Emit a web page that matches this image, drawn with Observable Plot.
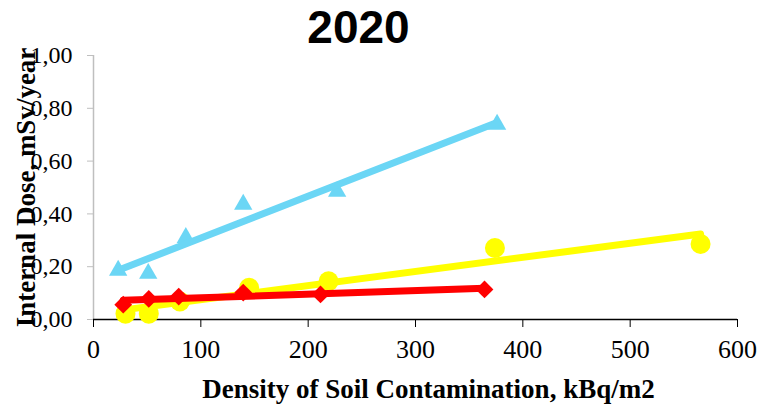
<!DOCTYPE html>
<html>
<head>
<meta charset="utf-8">
<script src="https://cdn.jsdelivr.net/npm/d3@7"></script>
<script src="https://cdn.jsdelivr.net/npm/@observablehq/plot@0.6"></script>
<style>
  html, body { margin: 0; padding: 0; background: white; }
</style>
</head>
<body>
<div id="chart"></div>
<script>
const title = "2020";
const xTitle = "Density of Soil Contamination, kBq/m2";
const yTitle = "Internal Dose, mSv/year";
const xTicks = [0, 100, 200, 300, 400, 500, 600];
const yTicks = [0, 0.2, 0.4, 0.6, 0.8, 1.0];

const blueX = [23, 51, 86, 139.5, 227, 376];
const blueY = [0.186, 0.174, 0.31, 0.436, 0.485, 0.739];
const yellowX = [29.8, 51.5, 80.5, 145, 219, 374, 565.6];
const yellowY = [0.022, 0.022, 0.068, 0.12, 0.145, 0.271, 0.286];
const redX = [27.7, 51.5, 79.4, 139.5, 211.5, 364.3];
const redY = [0.056, 0.078, 0.087, 0.102, 0.095, 0.114];

const mk = (xs, ys) => xs.map((x, i) => ({x, y: ys[i]}));
const blue = mk(blueX, blueY), yellow = mk(yellowX, yellowY), red = mk(redX, redY);

const cBlue = "#6BD6F5", cYellow = "#FFFF00", cRed = "#FF0000";
const fmt = d => d.toFixed(2).replace(".", ",");

const chart = Plot.plot({
  width: 761, height: 406,
  marginTop: 55, marginBottom: 87, marginLeft: 93, marginRight: 24,
  x: {domain: [0, 600]},
  y: {domain: [0, 1]},
  style: {fontFamily: "Liberation Serif", background: "white", color: "black"},
  marks: [
    Plot.axisY({ticks: yTicks, tickSize: 6, tickPadding: 15, tickFormat: fmt, fontSize: 24, stroke: "#bfbfbf", label: null}),
    Plot.ruleX([0], {stroke: "#bfbfbf", strokeWidth: 1.5}),
    Plot.axisX({ticks: xTicks, tickSize: 8, tickPadding: 12, fontSize: 26, stroke: "black", label: null}),
    Plot.ruleY([0], {stroke: "black", strokeWidth: 1.5}),
    Plot.dot(yellow, {x: "x", y: "y", r: 10, fill: cYellow, stroke: "none"}),
    Plot.linearRegressionY(yellow, {x: "x", y: "y", stroke: cYellow, strokeWidth: 7, ci: 0}),
    Plot.dot(red, {x: "x", y: "y", symbol: "diamond2", r: 8, fill: cRed, stroke: "none"}),
    Plot.linearRegressionY(red, {x: "x", y: "y", stroke: cRed, strokeWidth: 7, ci: 0}),
    Plot.dot(blue, {x: "x", y: "y", symbol: "triangle", r: 6.8, fill: cBlue, stroke: "none"}),
    Plot.linearRegressionY(blue, {x: "x", y: "y", stroke: cBlue, strokeWidth: 7, ci: 0}),
    Plot.text([title], {frameAnchor: "top", textAnchor: "middle", lineAnchor: "middle", dx: -57, dy: -27, fontSize: 46, fontWeight: "bold", fontFamily: "Liberation Sans"}),
    Plot.text([xTitle], {frameAnchor: "bottom", textAnchor: "middle", lineAnchor: "middle", dx: 13, dy: 70, fontSize: 27, fontWeight: "bold"}),
    Plot.text([yTitle], {frameAnchor: "left", textAnchor: "middle", lineAnchor: "middle", rotate: -90, dx: -67, dy: 0, fontSize: 27, fontWeight: "bold"})
  ]
});
document.getElementById("chart").appendChild(chart);
</script>
</body>
</html>
